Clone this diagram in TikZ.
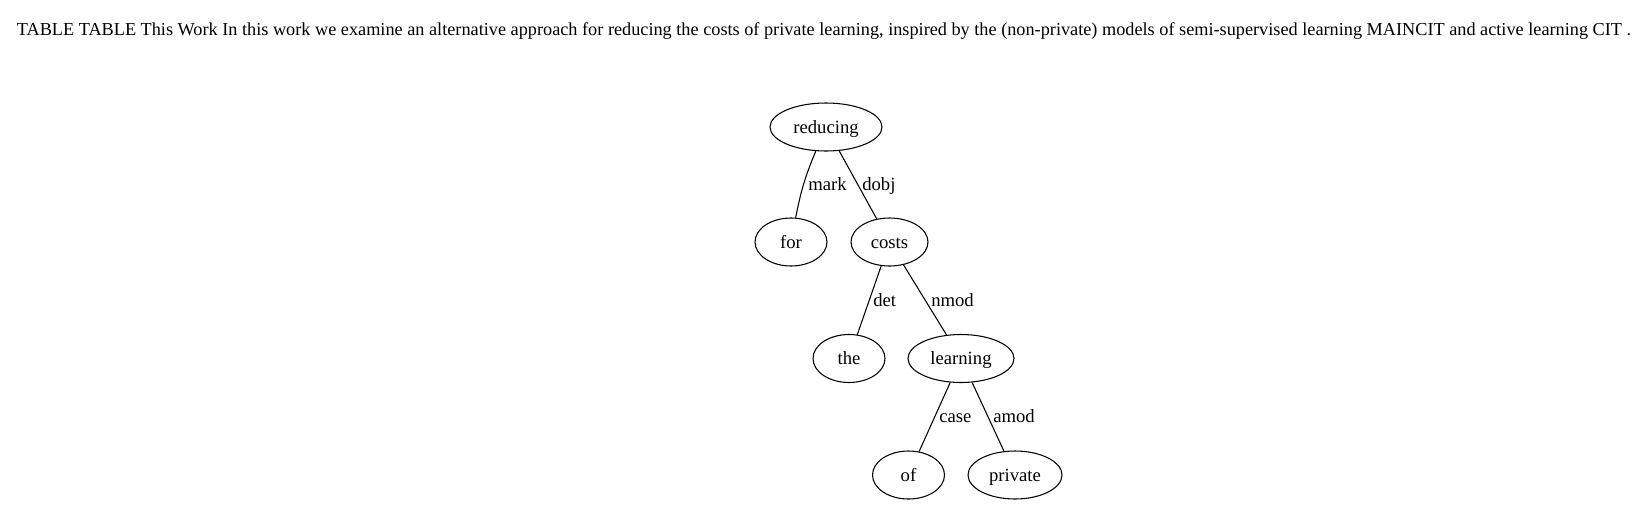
\documentclass[tikz,border=0pt]{standalone}
\usepackage{fontspec}
\setmainfont{Liberation Serif}
\usetikzlibrary{shapes.geometric}
\begin{document}
\begin{tikzpicture}[x=0.75pt,y=-0.75pt,
  word/.style={draw,ellipse,line width=0.8pt,inner sep=0pt,minimum height=36pt,text height=10pt,text depth=1pt,font=\fontsize{14}{16}\selectfont},
  lab/.style={anchor=west,inner sep=0pt,text height=10pt,text depth=1pt,font=\fontsize{14}{16}\selectfont},
  dep/.style={line width=0.8pt}]
\useasboundingbox (0,0) rectangle (1652,504);
\node[inner sep=0pt,text height=10pt,text depth=1pt,font=\fontsize{14}{16}\selectfont] (title) at (824,29) {\resizebox{1210.5pt}{!}{TABLE TABLE This Work In this work we examine an alternative approach for reducing the costs of private learning, inspired by the (non-private) models of semi-supervised learning MAINCIT and active learning CIT .}};
\node[word,minimum width=84pt] (reducing) at (826,127) {reducing};
\node[word,minimum width=54pt] (for) at (791,242) {for};
\node[word,minimum width=57.75pt] (costs) at (889.5,242) {costs};
\node[word,minimum width=54pt] (the) at (849,358.5) {the};
\node[word,minimum width=79.5pt] (learning) at (961,358.5) {learning};
\node[word,minimum width=54pt] (of) at (908.5,475) {of};
\node[word,minimum width=70.5pt] (private) at (1015,475) {private};
\draw[dep] (reducing) to[bend right=6] (for);
\draw[dep] (reducing) -- (costs);
\draw[dep] (costs) -- (the);
\draw[dep] (costs) -- (learning);
\draw[dep] (learning) -- (of);
\draw[dep] (learning) -- (private);
\node[lab] (lmark) at (808,184.5) {mark};
\node[lab] (ldobj) at (862,184.5) {dobj};
\node[lab] (ldet) at (873,300) {det};
\node[lab] (lnmod) at (931,300) {nmod};
\node[lab] (lcase) at (939,416) {case};
\node[lab] (lamod) at (993,416) {amod};
\end{tikzpicture}
\end{document}
